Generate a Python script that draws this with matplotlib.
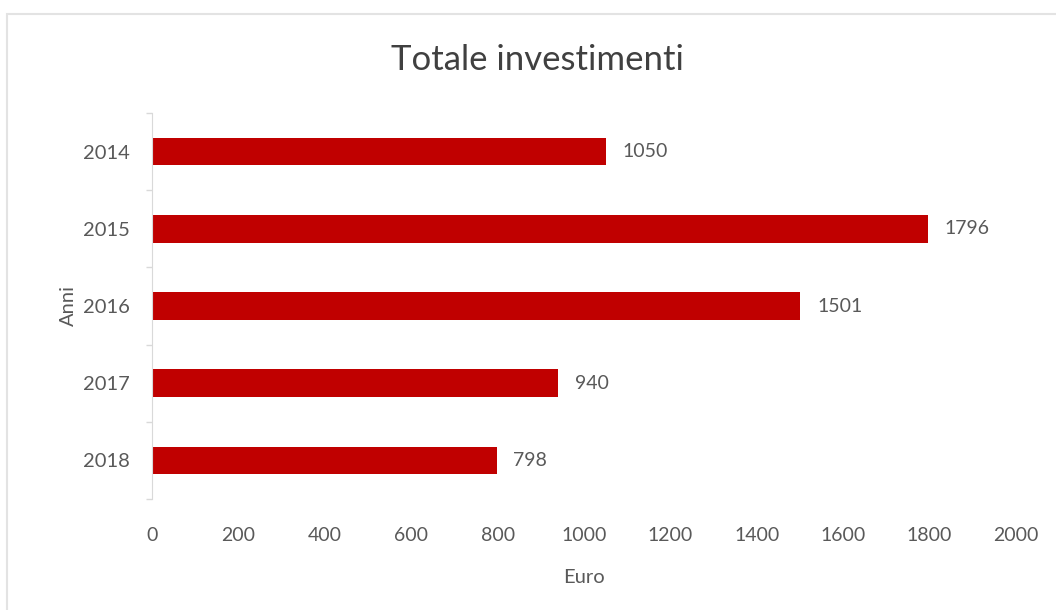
import matplotlib.pyplot as plt
from matplotlib.patches import Rectangle
import numpy as np

anni = ["2014", "2015", "2016", "2017", "2018"]
euro = [1050, 1796, 1501, 940, 798]
x_ticks = [0, 200, 400, 600, 800, 1000, 1200, 1400, 1600, 1800, 2000]

plt.rcParams['font.family'] = ['Lato', 'DejaVu Sans']

testo = '#595959'
linea = '#D9D9D9'

fig = plt.figure(figsize=(10.56, 6.10), dpi=100)
W, H = 1056, 610

# cornice grigia chiara del grafico
fig.patches.append(Rectangle((7 / W, -0.01), 1.1, (H - 14) / H + 0.01, transform=fig.transFigure,
                             fill=False, edgecolor='#E3E3E3', linewidth=1.5))

ax = fig.add_axes([152 / W, (H - 499) / H, (1016 - 152) / W, (499 - 113) / H])

pos = np.arange(len(anni))
bars = ax.barh(pos, euro, height=0.36, color='#C00000')
ax.bar_label(bars, labels=[str(v) for v in euro], padding=12, fontsize=14, color=testo)

ax.set_xlim(0, 2000)
ax.set_ylim(len(anni) - 0.5, -0.5)
ax.set_xticks(x_ticks)
ax.set_xticklabels([str(t) for t in x_ticks])
ax.set_yticks(pos)
ax.set_yticklabels(anni)
ax.set_yticks(np.arange(-0.5, len(anni)), minor=True)

ax.tick_params(axis='x', length=0, pad=20, labelsize=14, labelcolor=testo)
ax.tick_params(axis='y', which='major', length=0, pad=16, labelsize=14.5, labelcolor=testo)
ax.tick_params(axis='y', which='minor', length=4.5, width=1, color=linea)

for s in ['top', 'right', 'bottom']:
    ax.spines[s].set_visible(False)
ax.spines['left'].set_color(linea)

ax.set_xlabel('Euro', fontsize=14.5, color=testo, labelpad=18)
ax.set_ylabel('Anni', fontsize=14.5, color=testo, labelpad=4)

fig.text(537 / W, (H - 60) / H, 'Totale investimenti', ha='center', va='center',
         fontsize=25, color='#404040')

plt.savefig('out.png', dpi=100)
